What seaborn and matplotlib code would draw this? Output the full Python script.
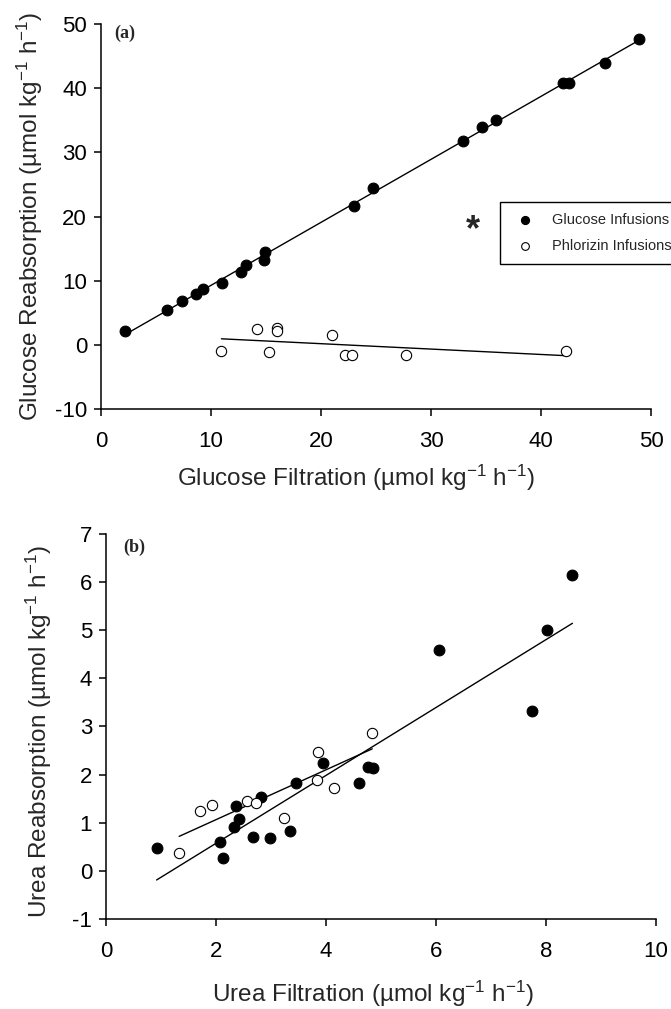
import numpy as np
import pandas as pd
import matplotlib
matplotlib.use("Agg")
import matplotlib.pyplot as plt
import seaborn as sns

# ---- panel (a): glucose ----
glu_filt_g = [2.2, 6.0, 7.35, 8.6, 9.3, 11.0, 12.7, 13.2, 14.85, 14.95,
              23.0, 24.7, 32.9, 34.6, 35.9, 42.0, 42.5, 45.8, 48.95]
glu_reab_g = [2.1, 5.5, 6.9, 8.0, 8.7, 9.6, 11.3, 12.5, 13.2, 14.4,
              21.6, 24.5, 31.8, 33.9, 35.0, 40.8, 40.8, 44.0, 47.7]
glu_filt_p = [10.95, 14.2, 16.0, 16.0, 15.3, 21.0, 22.2, 22.8, 27.7, 42.3]
glu_reab_p = [-0.95, 2.5, 2.7, 2.2, -1.05, 1.5, -1.6, -1.6, -1.6, -0.95]

# ---- panel (b): urea ----
urea_filt_g = [0.92, 2.07, 2.12, 2.33, 2.37, 2.41, 2.68, 2.82, 2.98, 3.34,
               3.45, 3.95, 4.60, 4.77, 4.85, 6.06, 7.75, 8.01, 8.48]
urea_reab_g = [0.47, 0.60, 0.26, 0.92, 1.35, 1.08, 0.70, 1.53, 0.68, 0.83,
               1.82, 2.25, 1.82, 2.16, 2.14, 4.58, 3.33, 5.00, 6.14]
urea_filt_p = [1.33, 1.71, 1.93, 2.56, 2.73, 3.23, 3.84, 3.86, 4.14, 4.84]
urea_reab_p = [0.38, 1.24, 1.37, 1.45, 1.40, 1.10, 1.89, 2.48, 1.73, 2.87]

sns.set_style("ticks")
plt.rcParams["font.family"] = ["Liberation Sans", "DejaVu Sans"]
plt.rcParams["mathtext.fontset"] = "custom"
plt.rcParams["mathtext.rm"] = "Liberation Sans"
plt.rcParams["mathtext.default"] = "regular"
plt.rcParams["axes.unicode_minus"] = False
plt.rcParams["axes.edgecolor"] = "black"
plt.rcParams["xtick.color"] = "black"
plt.rcParams["ytick.color"] = "black"

fig = plt.figure(figsize=(6.71, 10.09), dpi=100)
ax_a = fig.add_axes([0.1505, 0.5946, 0.8197, 0.3816])
ax_b = fig.add_axes([0.158, 0.0892, 0.8197, 0.3816])


def draw_panel(ax, xg, yg, xp, yp):
    # regression lines first, points on top
    sns.regplot(x=xg, y=yg, ax=ax, scatter=False, ci=None,
                line_kws=dict(color="black", lw=1))
    sns.regplot(x=xp, y=yp, ax=ax, scatter=False, ci=None,
                line_kws=dict(color="black", lw=1))
    sns.scatterplot(x=xg, y=yg, ax=ax, color="black", edgecolor="black",
                    s=60, linewidth=0.8, zorder=3, label="Glucose Infusions")
    sns.scatterplot(x=xp, y=yp, ax=ax, color="white", edgecolor="black",
                    s=55, linewidth=0.8, zorder=3, label="Phlorizin Infusions")
    sns.despine(ax=ax)
    for sp in ax.spines.values():
        sp.set_linewidth(1.1)
    ax.tick_params(direction="out", length=5, width=1.1, labelsize=16)
    ax.tick_params(axis="x", pad=11)
    ax.tick_params(axis="y", pad=5)


def place_labels(ax, xpos, ypos):
    ax.xaxis.label.set_va("center")
    ax.yaxis.label.set_va("center")
    ax.xaxis.set_label_coords(*xpos)
    ax.yaxis.set_label_coords(*ypos)


# panel (a)
draw_panel(ax_a, glu_filt_g, glu_reab_g, glu_filt_p, glu_reab_p)
ax_a.set_xlim(0, 50)
ax_a.set_ylim(-10, 50)
ax_a.set_xticks(range(0, 51, 10))
ax_a.set_yticks(range(-10, 51, 10))
ax_a.set_xlabel("Glucose Filtration (µmol kg$^{-1}$ h$^{-1}$)", fontsize=17.5)
ax_a.set_ylabel("Glucose Reabsorption (µmol kg$^{-1}$ h$^{-1}$)", fontsize=17.5)
place_labels(ax_a, (0.464, -0.179), (-0.129, 0.5))
ax_a.text(0.025, 0.977, "(a)", transform=ax_a.transAxes, fontsize=13,
          fontweight="bold", family="Liberation Serif", va="center")
ax_a.text(33.8, 17.8, "*", fontsize=26, fontweight="bold",
          ha="center", va="center")
leg = ax_a.legend(loc="upper left", bbox_to_anchor=(0.725, 0.538),
                  fontsize=10.5, frameon=True, fancybox=False, borderpad=0.75,
                  handletextpad=0.8, labelspacing=0.85, markerscale=0.75,
                  borderaxespad=0)
leg.get_frame().set_edgecolor("black")
leg.get_frame().set_linewidth(1)
leg.get_frame().set_alpha(1)

# panel (b)
draw_panel(ax_b, urea_filt_g, urea_reab_g, urea_filt_p, urea_reab_p)
ax_b.legend_.remove()
ax_b.set_xlim(0, 10)
ax_b.set_ylim(-1, 7)
ax_b.set_xticks(range(0, 11, 2))
ax_b.set_yticks(range(-1, 8))
ax_b.set_xlabel("Urea Filtration (µmol kg$^{-1}$ h$^{-1}$)", fontsize=17.5)
ax_b.set_ylabel("Urea Reabsorption (µmol kg$^{-1}$ h$^{-1}$)", fontsize=17.5)
place_labels(ax_b, (0.485, -0.195), (-0.122, 0.488))
ax_b.text(0.031, 0.966, "(b)", transform=ax_b.transAxes, fontsize=13,
          fontweight="bold", family="Liberation Serif", va="center")

fig.savefig("out.png", dpi=100)
